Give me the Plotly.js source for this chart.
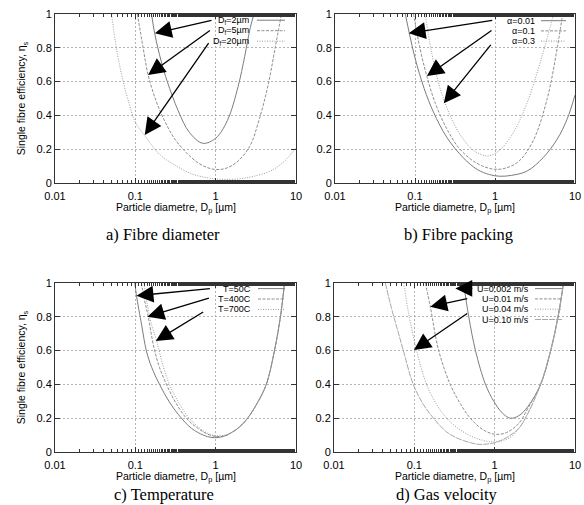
<!DOCTYPE html>
<html>
<head>
<meta charset="utf-8">
<script src="https://cdn.plot.ly/plotly-3.0.1.min.js"></script>
<style>html,body{margin:0;padding:0;background:#fff;}#chart{width:584px;height:505px;}</style>
</head>
<body>
<div id="chart"></div>
<script>
// ---------- data ----------
const xTickVals = [0.01, 0.1, 1, 10];
const xTickText = ['0.01', '0.1', '1', '10'];
const yTickVals = [0, 0.2, 0.4, 0.6, 0.8, 1];
const yTickText = ['0', '0.2', '0.4', '0.6', '0.8', '1'];

// a) Fibre diameter
const namesA = ['D<sub>f</sub>=2µm', 'D<sub>f</sub>=5µm', 'D<sub>f</sub>=20µm'];
const df2X = [0.159, 0.175, 0.21, 0.25, 0.34, 0.47, 0.69, 1.0, 1.4, 1.9, 2.3, 2.7, 3.0];
const df2Y = [1.0, 0.88, 0.72, 0.60, 0.43, 0.30, 0.235, 0.265, 0.37, 0.57, 0.75, 0.92, 1.0];
const df5X = [0.106, 0.125, 0.144, 0.18, 0.22, 0.3, 0.43, 0.6, 0.8, 1.0, 1.3, 1.8, 2.64, 3.5, 4.5, 5.5, 6.6];
const df5Y = [1.0, 0.80, 0.64, 0.49, 0.39, 0.27, 0.18, 0.12, 0.09, 0.08, 0.085, 0.12, 0.215, 0.38, 0.58, 0.80, 1.0];
const df20X = [0.0506, 0.058, 0.0706, 0.085, 0.1, 0.131, 0.2, 0.3, 0.5, 0.8, 1.2, 2.0, 3.0, 5.0, 7.6, 10];
const df20Y = [1.0, 0.80, 0.60, 0.46, 0.36, 0.28, 0.17, 0.11, 0.055, 0.03, 0.022, 0.025, 0.04, 0.075, 0.14, 0.21];

// b) Fibre packing
const namesB = ['α=0.01', 'α=0.1', 'α=0.3'];
const a001X = [0.0757, 0.085, 0.1, 0.13, 0.17, 0.25, 0.4, 0.6, 0.85, 1.15, 1.6, 2.5, 4, 6, 8, 10];
const a001Y = [1.0, 0.885, 0.74, 0.56, 0.42, 0.27, 0.15, 0.08, 0.05, 0.04, 0.045, 0.07, 0.15, 0.26, 0.38, 0.52];
const a01X = [0.096, 0.115, 0.141, 0.18, 0.25, 0.35, 0.5, 0.7, 1.0, 1.4, 2.0, 3.0, 4.5, 6.0, 7.0];
const a01Y = [1.0, 0.80, 0.63, 0.47, 0.32, 0.21, 0.14, 0.10, 0.081, 0.09, 0.13, 0.25, 0.50, 0.80, 1.0];
const a03X = [0.134, 0.16, 0.2, 0.239, 0.3, 0.4, 0.55, 0.8, 1.0, 1.3, 1.8, 2.5, 3.5, 4.5, 5.4];
const a03Y = [1.0, 0.78, 0.58, 0.47, 0.36, 0.26, 0.19, 0.16, 0.175, 0.22, 0.32, 0.47, 0.68, 0.86, 1.0];

// c) Temperature
const namesC = ['T=50C', 'T=400C', 'T=700C'];
const t50X = [0.0986, 0.103, 0.12, 0.137, 0.16, 0.2, 0.27, 0.375, 0.5, 0.7, 0.9, 1.2, 1.64, 2.0, 2.5, 3.3, 4.27, 5.4, 6.4, 7.2];
const t50Y = [1.0, 0.93, 0.75, 0.60, 0.50, 0.40, 0.29, 0.20, 0.14, 0.10, 0.086, 0.09, 0.12, 0.15, 0.2, 0.29, 0.4, 0.6, 0.8, 1.0];
const t400X = [0.119, 0.13, 0.144, 0.17, 0.2, 0.244, 0.32, 0.432, 0.6, 0.8, 1.0, 1.3, 1.64, 2.0, 2.5, 3.3, 4.27, 5.4, 6.4, 7.2];
const t400Y = [1.0, 0.9, 0.805, 0.62, 0.50, 0.40, 0.29, 0.20, 0.14, 0.105, 0.092, 0.095, 0.12, 0.15, 0.2, 0.29, 0.4, 0.6, 0.8, 1.0];
const t700X = [0.128, 0.14, 0.16, 0.183, 0.21, 0.255, 0.33, 0.45, 0.6, 0.8, 1.0, 1.3, 1.64, 2.0, 2.5, 3.3, 4.27, 5.4, 6.4, 7.2];
const t700Y = [1.0, 0.88, 0.75, 0.663, 0.55, 0.42, 0.31, 0.21, 0.15, 0.11, 0.097, 0.1, 0.12, 0.15, 0.2, 0.29, 0.4, 0.6, 0.8, 1.0];

// d) Gas velocity
const namesD = ['U=0.002 m/s', 'U=0.01 m/s', 'U=0.04 m/s', 'U=0.10 m/s'];
const u0002X = [0.41, 0.476, 0.577, 0.768, 0.975, 1.25, 1.57, 2.0, 2.6, 3.73, 4.98, 6.15, 7.2];
const u0002Y = [1.0, 0.8, 0.6, 0.4, 0.3, 0.23, 0.2, 0.215, 0.27, 0.4, 0.6, 0.8, 1.0];
const u001X = [0.137, 0.158, 0.201, 0.28, 0.38, 0.498, 0.7, 1.0, 1.4, 2.0, 2.6, 3.73, 4.98, 6.15, 7.2];
const u001Y = [1.0, 0.86, 0.6, 0.4, 0.28, 0.2, 0.135, 0.105, 0.115, 0.17, 0.26, 0.4, 0.6, 0.8, 1.0];
const u004X = [0.074, 0.085, 0.107, 0.142, 0.19, 0.253, 0.35, 0.5, 0.7, 0.9, 1.2, 1.6, 2.0, 2.6, 3.73, 4.98, 6.15, 7.2];
const u004Y = [1.0, 0.82, 0.6, 0.4, 0.28, 0.2, 0.14, 0.095, 0.07, 0.06, 0.065, 0.09, 0.14, 0.23, 0.4, 0.6, 0.8, 1.0];
const u010X = [0.0436, 0.052, 0.062, 0.073, 0.097, 0.13, 0.173, 0.25, 0.35, 0.5, 0.635, 0.8, 1.0, 1.4, 2.0, 2.6, 3.73, 4.98, 6.15, 7.2];
const u010Y = [1.0, 0.85, 0.72, 0.6, 0.4, 0.28, 0.2, 0.12, 0.08, 0.055, 0.045, 0.047, 0.055, 0.085, 0.14, 0.23, 0.4, 0.6, 0.8, 1.0];

// arrows: [tailX, tailY, headX, headY] in data units
const arrowsA = [[0.926, 0.964, 0.175, 0.886], [0.885, 0.909, 0.144, 0.639], [0.842, 0.836, 0.131, 0.284]];
const arrowsB = [[0.964, 0.964, 0.0834, 0.886], [0.944, 0.909, 0.141, 0.633], [0.917, 0.826, 0.229, 0.472]];
const arrowsC = [[0.885, 0.968, 0.1035, 0.925], [0.859, 0.913, 0.1416, 0.801], [0.73, 0.834, 0.18, 0.657]];
const arrowsD = [[0.55, 0.968, 0.324, 0.968], [0.475, 0.909, 0.158, 0.86], [0.475, 0.826, 0.099, 0.604]];

const captions = ['a) Fibre diameter', 'b) Fibre packing', 'c) Temperature', 'd) Gas velocity'];
const xTitle = 'Particle diametre, D<sub>p</sub> [µm]';
const yTitle = 'Single fibre efficiency, η<sub>s</sub>';

// ---------- styling ----------
const W = 584, H = 505;
const lineStyles = [
  {color: '#7c7c7c', width: 1, dash: 'solid'},
  {color: '#8e8e8e', width: 1, dash: '3px,1.5px'},
  {color: '#9a9a9a', width: 1, dash: '1px,1.5px'},
  {color: '#a8a8a8', width: 1, dash: '6px,1px'}
];
const FONT = 'Liberation Sans, Arial, sans-serif';

const panels = [
  {ax: '', names: namesA, series: [[df2X, df2Y], [df5X, df5Y], [df20X, df20Y]], arrows: arrowsA,
   xdom: [55 / W, 296 / W], ydom: [1 - 183 / H, 1 - 14 / H], legRight: 250, legSample: [257, 285], legRows: [20.2, 30.7, 41.2],
   cap: [163, 235], xt: 208, ytitle: true},
  {ax: '2', names: namesB, series: [[a001X, a001Y], [a01X, a01Y], [a03X, a03Y]], arrows: arrowsB,
   xdom: [335 / W, 575 / W], ydom: [1 - 183 / H, 1 - 14 / H], legRight: 536, legSample: [541, 566], legRows: [20.7, 30.9, 41.1],
   cap: [458, 235], xt: 208, ytitle: false},
  {ax: '3', names: namesC, series: [[t50X, t50Y], [t400X, t400Y], [t700X, t700Y]], arrows: arrowsC,
   xdom: [55 / W, 296 / W], ydom: [1 - 452 / H, 1 - 283 / H], legRight: 252, legSample: [258, 285], legRows: [288.6, 299.0, 309.4],
   cap: [164, 494], xt: 477, ytitle: true},
  {ax: '4', names: namesD, series: [[u0002X, u0002Y], [u001X, u001Y], [u004X, u004Y], [u010X, u010Y]], arrows: arrowsD,
   xdom: [334 / W, 575 / W], ydom: [1 - 452 / H, 1 - 283 / H], legRight: 530, legSample: [535, 562], legRows: [288.6, 298.9, 309.2, 319.5],
   cap: [447, 494], xt: 477, ytitle: false}
];

const traces = [];
const layout = {
  width: W, height: H, autosize: false,
  margin: {l: 0, r: 0, t: 0, b: 0, pad: 0},
  paper_bgcolor: '#fff', plot_bgcolor: '#fff',
  showlegend: false,
  font: {family: FONT, size: 11, color: '#000'},
  annotations: [], shapes: []
};

panels.forEach((p, pi) => {
  const xa = 'x' + p.ax, ya = 'y' + p.ax;
  p.series.forEach((s, si) => {
    traces.push({
      type: 'scatter', mode: 'lines', x: s[0], y: s[1], name: p.names[si],
      xaxis: xa, yaxis: ya, line: Object.assign({shape: 'spline', smoothing: 1}, lineStyles[si]),
      cliponaxis: true, hoverinfo: 'skip'
    });
    // legend text + sample
    const yp = 1 - p.legRows[si] / H;
    layout.annotations.push({
      xref: 'paper', yref: 'paper', x: p.legRight / W, y: yp, xanchor: 'right', yanchor: 'middle',
      text: p.names[si], showarrow: false, font: {family: FONT, size: 9, color: '#000'}, borderpad: 0
    });
    layout.shapes.push({
      type: 'line', xref: 'paper', yref: 'paper', x0: p.legSample[0] / W, x1: p.legSample[1] / W, y0: yp, y1: yp,
      line: lineStyles[si]
    });
  });
  p.arrows.forEach(a => {
    layout.annotations.push({
      xref: xa, yref: ya, axref: xa, ayref: ya,
      x: Math.log10(a[2]), y: a[3], ax: Math.log10(a[0]), ay: a[1],
      text: '', showarrow: true, arrowhead: 2, arrowsize: 2.6, arrowwidth: 1.3, arrowcolor: '#000', standoff: 0, startstandoff: 0
    });
  });
  layout.annotations.push({
    xref: 'paper', yref: 'paper', x: p.cap[0] / W, y: 1 - p.cap[1] / H, xanchor: 'center', yanchor: 'middle',
    text: captions[pi], showarrow: false, font: {family: 'Liberation Serif, Times New Roman, serif', size: 16.5, color: '#000'}, borderpad: 0
  });
  // x-axis title as a positioned annotation
  layout.annotations.push({
    xref: 'paper', yref: 'paper', x: (p.xdom[0] + p.xdom[1]) / 2, y: 1 - p.xt / H, xanchor: 'center', yanchor: 'middle',
    text: xTitle, showarrow: false, font: {family: FONT, size: 10.5, color: '#000'}, borderpad: 0
  });
  const xKey = 'xaxis' + p.ax, yKey = 'yaxis' + p.ax;
  layout[xKey] = {
    type: 'log', domain: p.xdom, anchor: ya, range: [-2, 1],
    tickvals: xTickVals, ticktext: xTickText, ticks: 'inside', ticklen: 5, tickwidth: 1, tickcolor: '#333',
    ticklabelstandoff: 3,
    minor: {ticks: 'inside', ticklen: 3, tickcolor: '#333', showgrid: false},
    showline: true, linecolor: '#333', linewidth: 1, mirror: 'ticks',
    showgrid: true, gridcolor: '#a0a0a0', gridwidth: 0.8, griddash: '2px,2px',
    zeroline: false, tickfont: {family: FONT, size: 11, color: '#000'}
  };
  layout[yKey] = {
    domain: p.ydom, anchor: xa, range: [0, 1],
    tickvals: yTickVals, ticktext: yTickText, ticks: 'inside', ticklen: 5, tickwidth: 1, tickcolor: '#333',
    showline: true, linecolor: '#333', linewidth: 1, mirror: 'ticks',
    showgrid: true, gridcolor: '#a0a0a0', gridwidth: 0.8, griddash: '2px,2px',
    zeroline: false, tickfont: {family: FONT, size: 11, color: '#000'},
    title: p.ytitle ? {text: yTitle, font: {family: FONT, size: 10.5, color: '#000'}, standoff: 8} : {text: ''}
  };
});

Plotly.newPlot('chart', traces, layout, {staticPlot: true, displayModeBar: false});
</script>
</body>
</html>
